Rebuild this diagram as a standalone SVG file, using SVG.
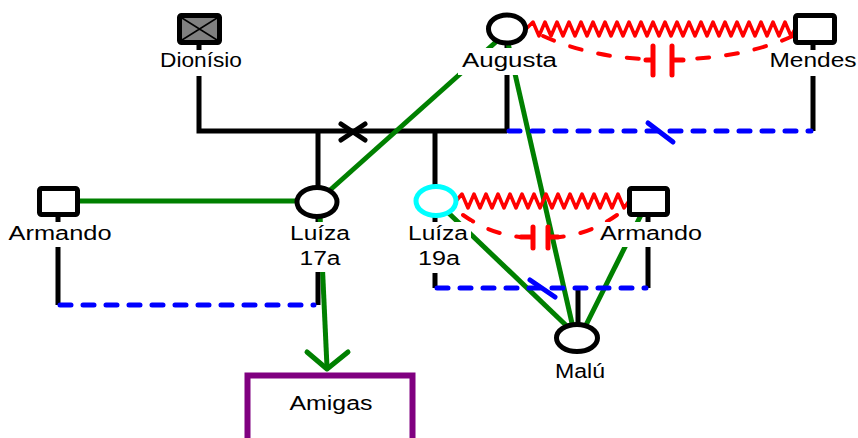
<svg xmlns="http://www.w3.org/2000/svg" width="858" height="438" viewBox="0 0 858 438">
<style>
.blk{stroke:#000;stroke-width:5;fill:none;stroke-linecap:butt}
.grn{stroke:#008000;stroke-width:5;fill:none;stroke-linecap:butt}
.blu{stroke:#0000ff;stroke-width:5;fill:none;stroke-linecap:round;stroke-dasharray:11 12}
.bls{stroke:#0000ff;stroke-width:5;fill:none;stroke-linecap:round}
.zig{stroke:#ff0000;stroke-width:3.5;fill:none;stroke-linejoin:round}
.rdd{stroke:#ff0000;stroke-width:4;fill:none;stroke-linecap:round;stroke-dasharray:12 17}
.cap{stroke:#ff0000;stroke-width:5;fill:none;stroke-linecap:round}
.sq{fill:#fff;stroke:#000;stroke-width:5;stroke-linejoin:round}
.ci{fill:#fff;stroke:#000;stroke-width:5}
.bg{fill:#fff}
text{font-family:"Liberation Sans",Arial,sans-serif;font-size:20px;fill:#000;text-anchor:middle}
</style>
<g id="connectors">
  <path class="blk" d="M199,45 V131 H507 M507,40 V131 M813,45 V131 M318,131 V190 M435,131 V190 M318,215 V305 M435,215 V288 M58,215 V305 M648,215 V288 M578,288 V330"/>
  <path class="blk" d="M341,124 L365,140 M341,140 L365,124" style="stroke-linecap:round"/>
  <line class="grn" x1="60" y1="201" x2="317" y2="201"/>
  <line class="grn" x1="329" y1="191" x2="497" y2="41"/>
  <line class="grn" x1="505" y1="30" x2="574" y2="332"/>
  <line class="grn" x1="436" y1="201" x2="572" y2="331"/>
  <line class="grn" x1="648" y1="201" x2="583" y2="331"/>
  <line class="grn" x1="320" y1="215" x2="327" y2="367"/>
  <polyline class="grn" points="307,352 327,369 348,352" style="stroke-linecap:round;stroke-linejoin:round"/>
  <line class="blu" x1="509" y1="131" x2="811" y2="131"/>
  <line class="bls" x1="648" y1="123" x2="673" y2="142"/>
  <line class="blu" x1="60" y1="305" x2="314" y2="305"/>
  <line class="blu" x1="437" y1="288" x2="646" y2="288"/>
  <line class="bls" x1="530" y1="280" x2="555" y2="297"/>
  <polyline class="zig" points="526,29 533,22 539,36 545,22 551,36 557,22 563,36 569,22 575,36 581,22 587,36 593,22 599,36 605,22 611,36 617,22 623,36 629,22 635,36 641,22 647,36 653,22 659,36 665,22 671,36 677,22 683,36 689,22 695,36 701,22 707,36 713,22 719,36 725,22 731,36 737,22 743,36 749,22 755,36 761,22 767,36 773,22 779,36 785,22 791,36 795,29"/>
  <path class="rdd" d="M543,36 Q590,57 645,59"/>
  <path class="rdd" d="M793,36 Q746,57 685,59"/>
  <path class="cap" d="M646,60 H653 M653,46 V75 M672,46 V75 M672,60 H683"/>
  <polyline class="zig" points="456,201 462,194 468,208 474,194 480,208 486,194 492,208 498,194 504,208 510,194 516,208 522,194 528,208 534,194 540,208 546,194 552,208 558,194 564,208 570,194 576,208 582,194 588,208 594,194 600,208 606,194 612,208 618,194 624,208 629,201"/>
  <path class="rdd" d="M463,215 Q490,234 520,237"/>
  <path class="rdd" d="M617,215 Q590,234 560,237"/>
  <path class="cap" d="M521,237 H533 M533,227 V248 M548,227 V248 M548,237 H558"/>
</g>
<g id="n-dionisio">
  <rect class="sq" x="179.5" y="15.5" width="40" height="27" rx="2" style="fill:#808080"/>
  <path d="M182,18 L217,40 M182,40 L217,18" stroke="#000" stroke-width="1.5"/>
  <rect class="bg" x="158" y="50" width="86" height="26"/>
  <text x="201" y="67" textLength="82" lengthAdjust="spacingAndGlyphs">Dionísio</text>
</g>
<g id="n-augusta">
  <ellipse class="ci" cx="507" cy="29" rx="18.5" ry="14"/>
  <rect class="bg" x="458" y="48" width="104" height="27"/>
  <text x="509.5" y="67" textLength="95" lengthAdjust="spacingAndGlyphs">Augusta</text>
</g>
<g id="n-mendes">
  <rect class="sq" x="795.5" y="15.5" width="39" height="27" rx="2"/>
  <rect class="bg" x="766" y="50" width="92" height="26"/>
  <text x="813" y="67" textLength="87" lengthAdjust="spacingAndGlyphs">Mendes</text>
</g>
<g id="n-armando1">
  <rect class="sq" x="39.5" y="188.5" width="38" height="26" rx="2"/>
  <rect class="bg" x="6" y="222" width="108" height="25"/>
  <text x="60" y="240" textLength="103" lengthAdjust="spacingAndGlyphs">Armando</text>
</g>
<g id="n-luiza17">
  <ellipse class="ci" cx="317" cy="202" rx="20" ry="14.5"/>
  <rect class="bg" x="288" y="222" width="64" height="50"/>
  <text x="320" y="240" textLength="60" lengthAdjust="spacingAndGlyphs">Luíza</text>
  <text x="320" y="265" textLength="41" lengthAdjust="spacingAndGlyphs">17a</text>
</g>
<g id="n-luiza19">
  <ellipse class="ci" cx="436" cy="201" rx="20" ry="14.5" style="stroke:#00ffff"/>
  <rect class="bg" x="405" y="222" width="66" height="51"/>
  <text x="438" y="240" textLength="60" lengthAdjust="spacingAndGlyphs">Luíza</text>
  <text x="439" y="265" textLength="42" lengthAdjust="spacingAndGlyphs">19a</text>
</g>
<g id="n-armando2">
  <rect class="sq" x="629.5" y="188.5" width="38" height="26" rx="2"/>
  <rect class="bg" x="597" y="222" width="108" height="25"/>
  <text x="651" y="240" textLength="102" lengthAdjust="spacingAndGlyphs">Armando</text>
</g>
<g id="n-malu">
  <ellipse class="ci" cx="577" cy="338" rx="20.5" ry="13.5"/>
  <text x="580" y="378" textLength="50" lengthAdjust="spacingAndGlyphs">Malú</text>
</g>
<g id="n-amigas">
  <rect x="247.5" y="375.5" width="165" height="80" fill="#fff" stroke="#800080" stroke-width="6"/>
  <text x="331" y="410" textLength="83" lengthAdjust="spacingAndGlyphs">Amigas</text>
</g>
</svg>
